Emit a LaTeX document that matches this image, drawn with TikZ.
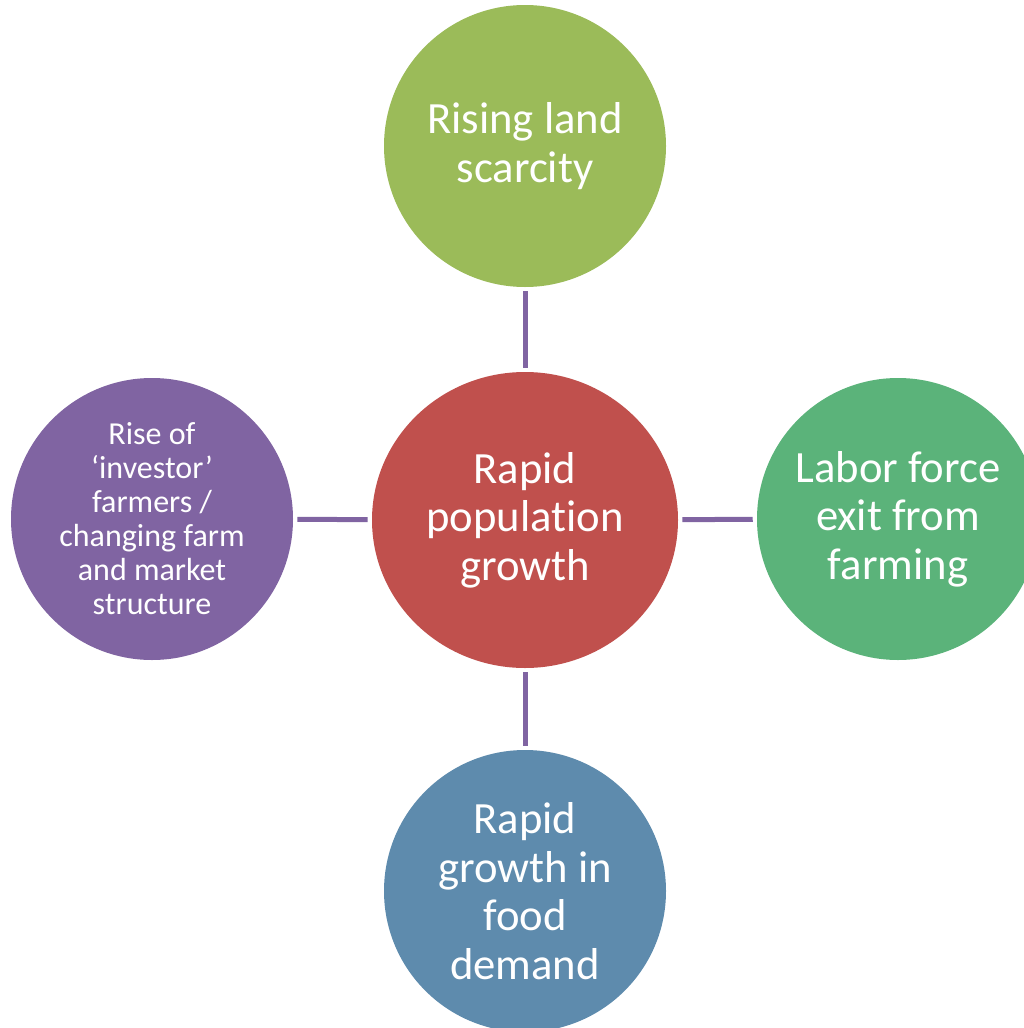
\documentclass[tikz,border=0pt]{standalone}
\usepackage{fontspec}
\setmainfont{Carlito}[Ligatures=NoCommon]
\usetikzlibrary{shapes.geometric}
\definecolor{leafgreen}{HTML}{9BBB59}
\definecolor{brickred}{HTML}{C0504D}
\definecolor{seagreen}{HTML}{5BB37A}
\definecolor{plum}{HTML}{8064A2}
\definecolor{steelblue}{HTML}{5E8BAD}
\tikzset{
  bubble/.style={circle, fill=#1, inner sep=0pt, minimum size=211.5pt,
    text=white, align=center, font=\fontsize{33.5}{36.5}\selectfont},
  link/.style={draw=plum, line width=3.75pt, shorten <=3pt, shorten >=3pt}
}
\begin{document}
\begin{tikzpicture}[x=0.75pt, y=-0.75pt]
        \clip (0,0) rectangle (1024,1028);
        % Nodes
        \node[bubble=brickred, ellipse, minimum width=229.5pt, minimum height=222pt] (growth) at (525,520) {Rapid\\population\\growth};
        \node[bubble=leafgreen] (land) at (525,146) {Rising land\\scarcity};
        \node[bubble=seagreen] (labor) at (898,519) {Labor force\\exit from\\farming};
        \node[bubble=plum, font=\fontsize{24}{25.5}\selectfont] (investor) at (152,519) {Rise of\\`investor'\\farmers /\\changing farm\\and market\\structure};
        \node[bubble=steelblue] (food) at (525,891) {Rapid\\growth in\\food\\demand};

        % Lines
        \draw[link] (land) -- (growth);
        \draw[link] (growth) -- (food);
        \draw[link] (investor) -- (growth);
        \draw[link] (growth) -- (labor);
\end{tikzpicture}
\end{document}
